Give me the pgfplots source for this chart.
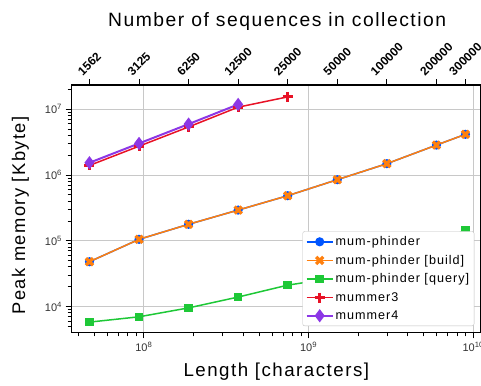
\documentclass[border=0pt]{standalone}
\usepackage{fontspec}
\setmainfont{Liberation Sans}
\newfontfamily\spaced[LetterSpace=8]{Liberation Sans}
\usepackage{graphicx}
\usepackage{pgfplots}
\pgfplotsset{compat=1.18}
\usetikzlibrary{calc}
\definecolor{cblue}{RGB}{0,85,255}
\definecolor{corange}{RGB}{255,128,14}
\definecolor{cgreen}{RGB}{30,200,55}
\definecolor{cred}{RGB}{232,18,38}
\definecolor{cpurple}{RGB}{140,55,230}
\definecolor{cgrid}{RGB}{200,200,200}

\pgfplotstableread{
len mem
4.6708e7 4.79e4
9.3447e7 1.05e5
1.8690e8 1.78e5
3.7379e8 2.93e5
7.4758e8 4.85e5
1.4952e9 8.5e5
2.9903e9 1.49e6
5.9806e9 2.86e6
8.9709e9 4.17e6
}\phinder
\pgfplotstableread{
len mem
4.6708e7 4.79e4
9.3447e7 1.05e5
1.8690e8 1.78e5
3.7379e8 2.93e5
7.4758e8 4.85e5
1.4952e9 8.5e5
2.9903e9 1.49e6
5.9806e9 2.86e6
8.9709e9 4.17e6
}\build
\pgfplotstableread{
len mem
4.6708e7 5.77e3
9.3447e7 6.95e3
1.8690e8 9.5e3
3.7379e8 1.39e4
7.4758e8 2.11e4
1.4952e9 2.75e4
2.9903e9 4.5e4
5.9806e9 9.0e4
8.9709e9 1.46e5
}\query
\pgfplotstableread{
len mem
4.6708e7 1.40e6
9.3447e7 2.75e6
1.8690e8 5.4e6
3.7379e8 1.08e7
7.4758e8 1.55e7
}\mummerthree
\pgfplotstableread{
len mem
4.6708e7 1.54e6
9.3447e7 3.03e6
1.8690e8 5.97e6
3.7379e8 1.19e7
}\mummerfour

\begin{document}
\begin{tikzpicture}
\begin{axis}[
  name=ax,
  xmode=log, ymode=log,
  scale only axis, width=409pt, height=248pt,
  xmin=3.61e7, xmax=1.1e10, ymin=3.94e3, ymax=2.35e7,
  axis line style={line width=1pt},
  tick align=outside, xtick pos=bottom, ytick pos=left,
  major tick length=5.5pt, minor tick length=3.5pt,
  every tick/.style={black, line width=0.9pt},
  grid=major, major grid style={line width=0.8pt, color=cgrid},
  xtick={1e8,1e9,1e10},
  xticklabels={10\textsuperscript{8},10\textsuperscript{9},10\textsuperscript{10}},
  minor xtick={4e7,5e7,6e7,7e7,8e7,9e7,2e8,3e8,4e8,5e8,6e8,7e8,8e8,9e8,2e9,3e9,4e9,5e9,6e9,7e9,8e9,9e9},
  ytick={1e4,1e5,1e6,1e7},
  yticklabels={10\textsuperscript{4},10\textsuperscript{5},10\textsuperscript{6},10\textsuperscript{7}},
  minor ytick={5e3,6e3,7e3,8e3,9e3,2e4,3e4,4e4,5e4,6e4,7e4,8e4,9e4,2e5,3e5,4e5,5e5,6e5,7e5,8e5,9e5,2e6,3e6,4e6,5e6,6e6,7e6,8e6,9e6,2e7},
  tick label style={font=\fontsize{11}{13}\selectfont, text=black!80},
  xlabel={Length [characters]},
  ylabel={Peak memory [Kbyte]},
  every axis x label/.style={at={(axis description cs:0.502,0)}, anchor=base, yshift=-44pt, font=\fontsize{18.7}{22}\selectfont\spaced},
  every axis y label/.style={at={(axis description cs:-0.1125,0.474)}, rotate=90, anchor=base, font=\fontsize{18.3}{22}\selectfont\spaced},
  legend style={at={(0.986,0.028)}, anchor=south east, draw=black!25, rounded corners=2pt,
    font=\fontsize{12.6}{15}\selectfont\spaced, row sep=4pt, inner sep=3pt},
  legend cell align=left,
  legend image code/.code={\draw[mark repeat=2,mark phase=2,#1] plot coordinates {(0pt,0pt) (13pt,0pt) (26pt,0pt)};},
]
\addplot[color=cblue, line width=1.5pt, mark=*, mark size=3.8pt] table[x=len,y=mem]{\phinder};
\addlegendentry{mum-phinder}
\addplot[color=corange, line width=1.5pt, mark=x, mark size=5pt, mark options={line width=3.3pt}] table[x=len,y=mem]{\build};
\addlegendentry{mum-phinder [build]}
\addplot[color=cgreen, line width=1.5pt, mark=square*, mark size=3.5pt] table[x=len,y=mem]{\query};
\addlegendentry{mum-phinder [query]}
\addplot[color=cred, line width=1.5pt, mark=+, mark size=5pt, mark options={line width=3pt}] table[x=len,y=mem]{\mummerthree};
\addlegendentry{mummer3}
\addplot[color=cpurple, line width=2pt, mark=diamond*, mark size=5pt] table[x=len,y=mem]{\mummerfour};
\addlegendentry{mummer4}
\end{axis}
\begin{axis}[
  xmode=log,
  scale only axis, width=409pt, height=248pt,
  xmin=3.61e7, xmax=1.1e10, ymin=1, ymax=10,
  axis x line*=top, hide y axis,
  axis line style={line width=1pt},
  tick align=outside, major tick length=6pt,
  every tick/.style={black, line width=0.9pt},
  xtick={4.6708e7,9.3447e7,1.8690e8,3.7379e8,7.4758e8,1.4952e9,2.9903e9,5.9806e9,8.9709e9},
  xticklabels={\rotatebox{45}{1562},\rotatebox{45}{3125},\rotatebox{45}{6250},\rotatebox{45}{12500},\rotatebox{45}{25000},\rotatebox{45}{50000},\rotatebox{45}{100000},\rotatebox{45}{200000},\rotatebox{45}{300000}},
  minor xtick={},
  xticklabel style={anchor=south, font=\fontsize{12}{14}\selectfont\bfseries, yshift=-1pt},
  xlabel={Number of sequences in collection},
  every axis x label/.style={at={(axis description cs:0.504,1)}, anchor=base, yshift=59pt, font=\fontsize{19.3}{24}\selectfont\spaced},
]
\addplot[draw=none] coordinates {(1e8,2)};
\end{axis}
\pgfresetboundingbox
\path[use as bounding box] ($(ax.south west)+(-71pt,-52pt)$) rectangle ($(ax.south west)+(410pt,333pt)$);
\end{tikzpicture}
\end{document}
